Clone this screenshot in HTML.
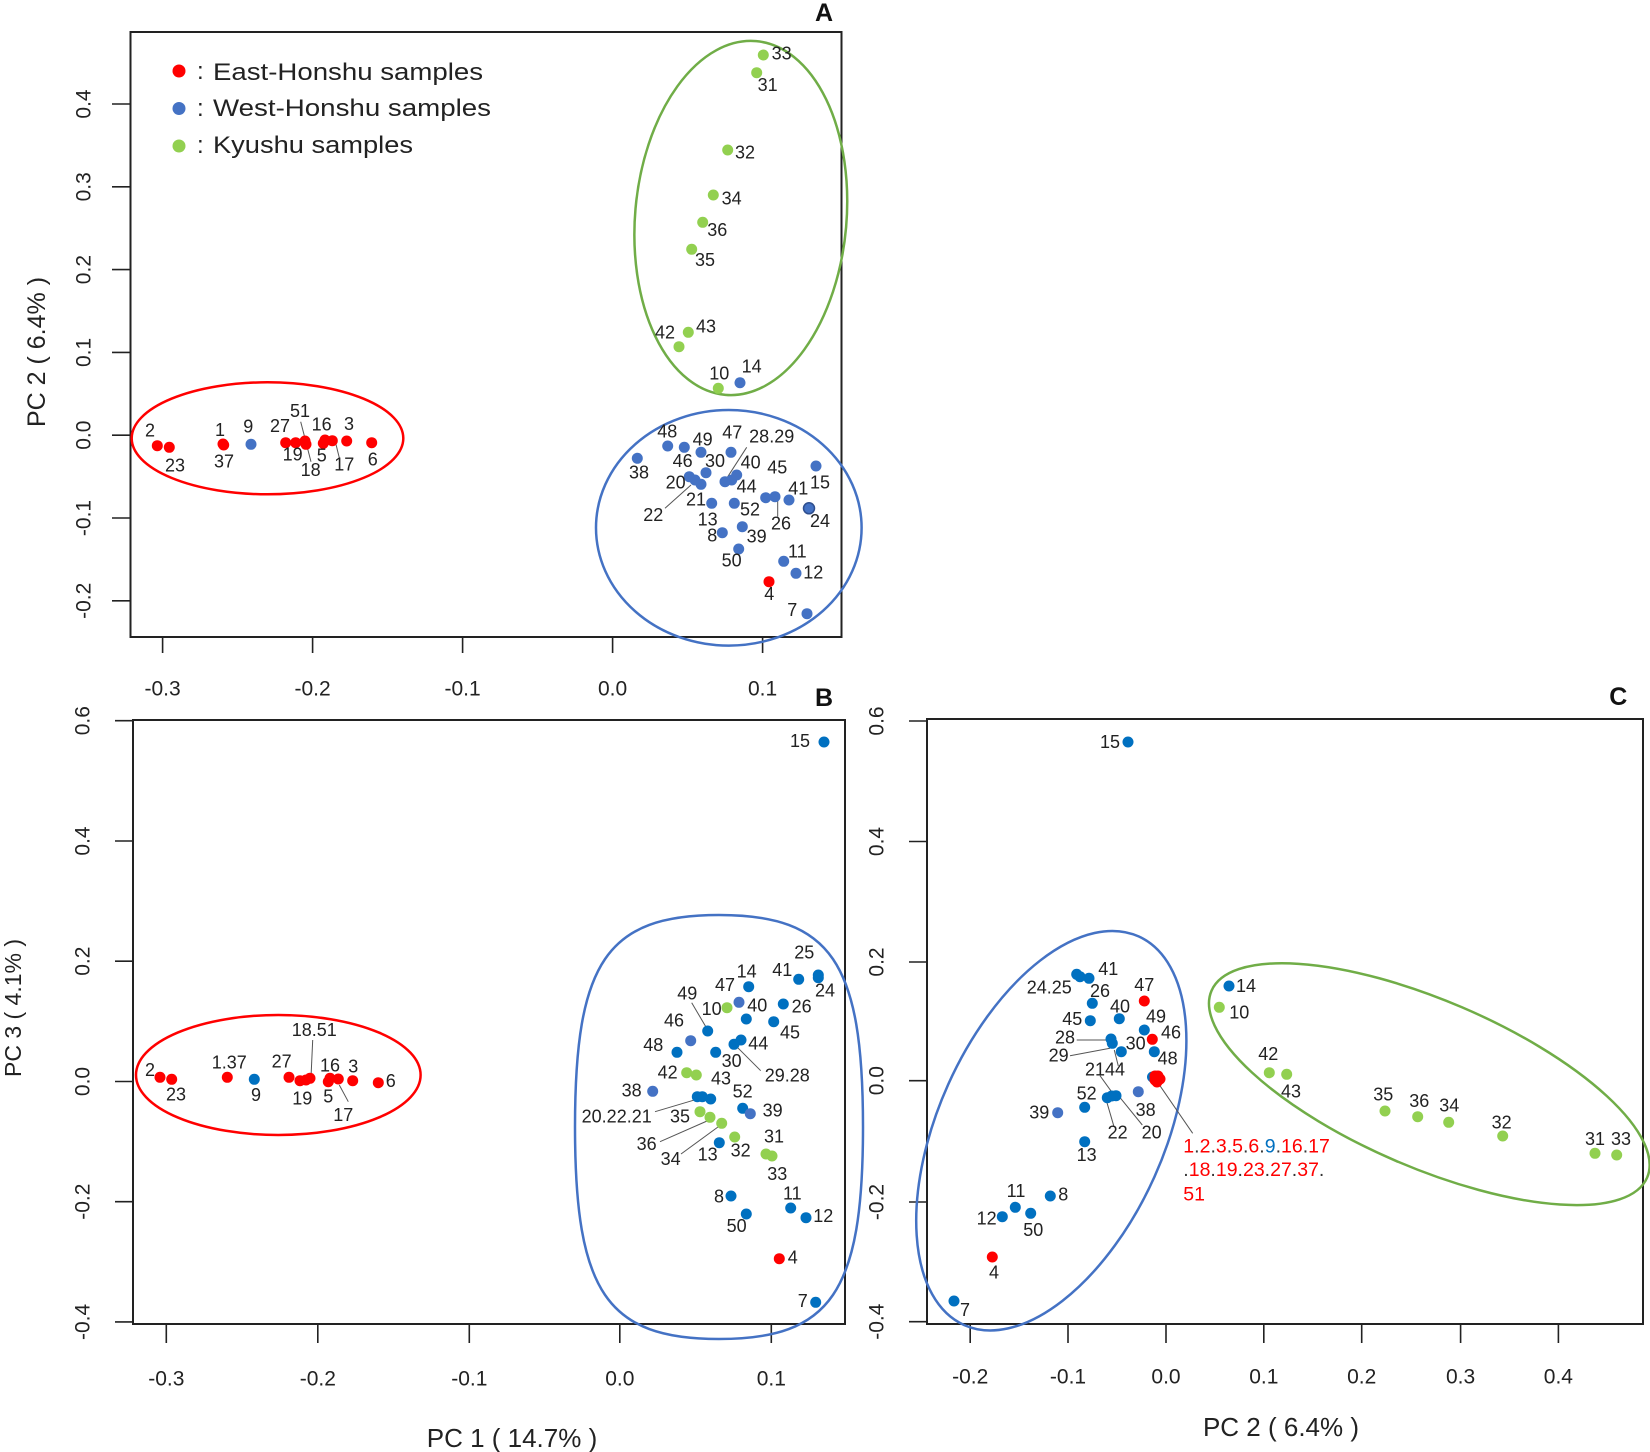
<!DOCTYPE html>
<html>
<head>
<meta charset="utf-8">
<style>
html,body{margin:0;padding:0;background:#fff;}
svg{display:block;}
text{font-family:"Liberation Sans","Noto Sans CJK JP",sans-serif;}
.l{font-size:18px;fill:#222;text-anchor:middle;dominant-baseline:central;}
.t{font-size:21px;fill:#222;text-anchor:middle;dominant-baseline:central;}
.r{fill:#FF0000;}
.b{fill:#4472C4;}
.d{fill:#0070C0;}
.g{fill:#92D050;}
.ax{fill:none;stroke:#222;stroke-width:2;}
.tk{stroke:#222;stroke-width:1.6;}
.ld{stroke:#555;stroke-width:1;}
</style>
</head>
<body>
<svg width="1650" height="1452" viewBox="0 0 1650 1452" xmlns="http://www.w3.org/2000/svg">
<rect x="0" y="0" width="1650" height="1452" fill="#fff"/>

<!-- ================= PANEL A ================= -->
<rect class="ax" x="130.5" y="32" width="711" height="605"/>
<g class="tk">
<line x1="162.6" y1="637" x2="162.6" y2="653"/>
<line x1="312.6" y1="637" x2="312.6" y2="653"/>
<line x1="462.6" y1="637" x2="462.6" y2="653"/>
<line x1="612.6" y1="637" x2="612.6" y2="653"/>
<line x1="762.6" y1="637" x2="762.6" y2="653"/>
<line x1="112" y1="104" x2="130.5" y2="104"/>
<line x1="112" y1="186.8" x2="130.5" y2="186.8"/>
<line x1="112" y1="269.6" x2="130.5" y2="269.6"/>
<line x1="112" y1="352.4" x2="130.5" y2="352.4"/>
<line x1="112" y1="435.2" x2="130.5" y2="435.2"/>
<line x1="112" y1="518" x2="130.5" y2="518"/>
<line x1="112" y1="600.8" x2="130.5" y2="600.8"/>
</g>
<g class="t">
<text x="162.6" y="689">-0.3</text>
<text x="312.6" y="689">-0.2</text>
<text x="462.6" y="689">-0.1</text>
<text x="612.6" y="689">0.0</text>
<text x="762.6" y="689">0.1</text>
<text transform="translate(84,104) rotate(-90)">0.4</text>
<text transform="translate(84,186.8) rotate(-90)">0.3</text>
<text transform="translate(84,269.6) rotate(-90)">0.2</text>
<text transform="translate(84,352.4) rotate(-90)">0.1</text>
<text transform="translate(84,435.2) rotate(-90)">0.0</text>
<text transform="translate(84,518) rotate(-90)">-0.1</text>
<text transform="translate(84,600.8) rotate(-90)">-0.2</text>
</g>
<text transform="translate(37,352) rotate(-90)" style="font-size:25px;fill:#222;text-anchor:middle;dominant-baseline:central;">PC 2 ( 6.4% )</text>
<text x="824" y="13" style="font-size:25px;font-weight:bold;fill:#111;text-anchor:middle;dominant-baseline:central;">A</text>

<!-- legend -->
<circle cx="179" cy="71" r="6.5" class="r"/>
<circle cx="179" cy="108.5" r="6.5" class="b"/>
<circle cx="179" cy="146" r="6.5" class="g"/>
<g style="font-size:24px;fill:#222;">
<text x="197" y="79">:</text>
<text x="197" y="116">:</text>
<text x="197" y="153">:</text>
<text x="213" y="80" textLength="270" lengthAdjust="spacingAndGlyphs">East-Honshu samples</text>
<text x="213" y="116" textLength="278" lengthAdjust="spacingAndGlyphs">West-Honshu samples</text>
<text x="213" y="153" textLength="200" lengthAdjust="spacingAndGlyphs">Kyushu samples</text>
</g>

<!-- ellipses A -->
<ellipse cx="267.5" cy="438.3" rx="135.8" ry="56" fill="none" stroke="#FF0000" stroke-width="2.5"/>
<ellipse cx="728.8" cy="527.8" rx="132.8" ry="117.8" fill="none" stroke="#4472C4" stroke-width="2.5"/>
<ellipse cx="740.8" cy="218" rx="105.7" ry="177.5" transform="rotate(5 740.8 218)" fill="none" stroke="#70AD47" stroke-width="2.5"/>

<!-- leaders A -->
<g class="ld">
<line x1="746.7" y1="447.3" x2="726.7" y2="478.3"/>
<line x1="665" y1="508.3" x2="691" y2="485"/>
<line x1="777.7" y1="500" x2="777.7" y2="516.7"/>
<line x1="300.7" y1="421.7" x2="311" y2="461.7"/>
<line x1="335.7" y1="443.3" x2="339.3" y2="457.7"/>
</g>

<!-- points A -->
<g>
<circle class="r" cx="157.3" cy="445.7" r="5.5"/>
<circle class="r" cx="169.3" cy="447.3" r="5.5"/>
<circle class="r" cx="223.7" cy="445" r="5.5"/>
<circle class="r" cx="223" cy="444" r="5.5"/>
<circle class="b" cx="251" cy="444.3" r="5.5"/>
<circle class="r" cx="285.7" cy="442.7" r="5.5"/>
<circle class="r" cx="295.7" cy="442.7" r="5.5"/>
<circle class="r" cx="305" cy="441" r="5.5"/>
<circle class="r" cx="306" cy="444.3" r="5.5"/>
<circle class="r" cx="323.3" cy="443.3" r="5.5"/>
<circle class="r" cx="325" cy="440" r="5.5"/>
<circle class="r" cx="332.3" cy="440.7" r="5.5"/>
<circle class="r" cx="346.7" cy="441" r="5.5"/>
<circle class="r" cx="371.7" cy="442.7" r="5.5"/>

<circle class="g" cx="763.3" cy="55" r="5.5"/>
<circle class="g" cx="756.7" cy="72.7" r="5.5"/>
<circle class="g" cx="727.7" cy="150" r="5.5"/>
<circle class="g" cx="713.3" cy="195" r="5.5"/>
<circle class="g" cx="702.7" cy="222.3" r="5.5"/>
<circle class="g" cx="691.7" cy="249.3" r="5.5"/>
<circle class="g" cx="688.3" cy="332.3" r="5.5"/>
<circle class="g" cx="679" cy="346.7" r="5.5"/>
<circle class="g" cx="718.3" cy="388.3" r="5.5"/>
<circle class="b" cx="740" cy="382.7" r="5.5"/>

<circle class="b" cx="667.7" cy="446" r="5.5"/>
<circle class="b" cx="684.3" cy="447.3" r="5.5"/>
<circle class="b" cx="701" cy="452.3" r="5.5"/>
<circle class="b" cx="731" cy="452.3" r="5.5"/>
<circle class="b" cx="637.3" cy="458.3" r="5.5"/>
<circle class="b" cx="706" cy="472.7" r="5.5"/>
<circle class="b" cx="689.3" cy="476.7" r="5.5"/>
<circle class="b" cx="695" cy="480" r="5.5"/>
<circle class="b" cx="701" cy="484.3" r="5.5"/>
<circle class="b" cx="725" cy="481.7" r="5.5"/>
<circle class="b" cx="731.7" cy="480" r="5.5"/>
<circle class="b" cx="736.7" cy="475" r="5.5"/>
<circle class="b" cx="816" cy="466" r="5.5"/>
<circle class="b" cx="765.7" cy="497.7" r="5.5"/>
<circle class="b" cx="775" cy="496.7" r="5.5"/>
<circle class="b" cx="789" cy="500" r="5.5"/>
<circle class="b" cx="809" cy="508.3" r="5.5" stroke="#2F4F8F" stroke-width="1.5"/>
<circle class="b" cx="711.7" cy="503.3" r="5.5"/>
<circle class="b" cx="734.3" cy="503.3" r="5.5"/>
<circle class="b" cx="742.3" cy="526.7" r="5.5"/>
<circle class="b" cx="722.3" cy="532.7" r="5.5"/>
<circle class="b" cx="738.7" cy="549" r="5.5"/>
<circle class="b" cx="783.7" cy="561.3" r="5.5"/>
<circle class="b" cx="796" cy="573.3" r="5.5"/>
<circle class="r" cx="769" cy="581.7" r="5.5"/>
<circle class="b" cx="807" cy="613.7" r="5.5"/>
</g>

<!-- labels A -->
<g class="l">
<text x="781.7" y="53.3">33</text>
<text x="767.7" y="85">31</text>
<text x="745" y="152.7">32</text>
<text x="731.7" y="198.3">34</text>
<text x="717.3" y="230">36</text>
<text x="705" y="260">35</text>
<text x="706" y="326.7">43</text>
<text x="665" y="332.7">42</text>
<text x="719.3" y="373.3">10</text>
<text x="751.7" y="366.7">14</text>
<text x="667.3" y="431.7">48</text>
<text x="702.7" y="439.3">49</text>
<text x="732.3" y="432.7">47</text>
<text x="771.7" y="436.7">28.29</text>
<text x="682.7" y="461">46</text>
<text x="715" y="461">30</text>
<text x="750.7" y="462.7">40</text>
<text x="777.3" y="467.7">45</text>
<text x="639" y="472.7">38</text>
<text x="675.7" y="482.7">20</text>
<text x="798.3" y="488.3">41</text>
<text x="820" y="482.7">15</text>
<text x="746.7" y="486.7">44</text>
<text x="696" y="499.3">21</text>
<text x="750" y="509.3">52</text>
<text x="653.3" y="515">22</text>
<text x="707.7" y="519.3">13</text>
<text x="781" y="523.3">26</text>
<text x="820" y="521">24</text>
<text x="712.3" y="535.7">8</text>
<text x="756.7" y="536.7">39</text>
<text x="797.3" y="551.7">11</text>
<text x="731.7" y="560.7">50</text>
<text x="813.3" y="572.7">12</text>
<text x="769.3" y="594">4</text>
<text x="792.3" y="610">7</text>
<text x="150" y="430.7">2</text>
<text x="175" y="465.7">23</text>
<text x="220" y="430">1</text>
<text x="224" y="461.7">37</text>
<text x="248.3" y="426.7">9</text>
<text x="280" y="426">27</text>
<text x="300" y="411">51</text>
<text x="321.7" y="424.3">16</text>
<text x="349" y="424">3</text>
<text x="292.7" y="454.3">19</text>
<text x="321.7" y="455.7">5</text>
<text x="310.7" y="470">18</text>
<text x="344.3" y="464.3">17</text>
<text x="372.7" y="459.3">6</text>
</g>

<!-- ================= PANEL B ================= -->
<rect class="ax" x="133" y="720" width="712" height="604"/>
<g class="tk">
<line x1="166.3" y1="1324" x2="166.3" y2="1343"/>
<line x1="317.8" y1="1324" x2="317.8" y2="1343"/>
<line x1="469.3" y1="1324" x2="469.3" y2="1343"/>
<line x1="619.8" y1="1324" x2="619.8" y2="1343"/>
<line x1="771.3" y1="1324" x2="771.3" y2="1343"/>
<line x1="115" y1="720.7" x2="133" y2="720.7"/>
<line x1="115" y1="841" x2="133" y2="841"/>
<line x1="115" y1="961.2" x2="133" y2="961.2"/>
<line x1="115" y1="1081.5" x2="133" y2="1081.5"/>
<line x1="115" y1="1201.7" x2="133" y2="1201.7"/>
<line x1="115" y1="1321.9" x2="133" y2="1321.9"/>
</g>
<g class="t">
<text x="166.3" y="1379">-0.3</text>
<text x="317.8" y="1379">-0.2</text>
<text x="469.3" y="1379">-0.1</text>
<text x="619.8" y="1379">0.0</text>
<text x="771.3" y="1379">0.1</text>
<text transform="translate(83,720.7) rotate(-90)">0.6</text>
<text transform="translate(83,841) rotate(-90)">0.4</text>
<text transform="translate(83,961.2) rotate(-90)">0.2</text>
<text transform="translate(83,1081.5) rotate(-90)">0.0</text>
<text transform="translate(83,1201.7) rotate(-90)">-0.2</text>
<text transform="translate(83,1321.9) rotate(-90)">-0.4</text>
</g>
<text transform="translate(13,1008) rotate(-90)" style="font-size:23px;fill:#222;text-anchor:middle;dominant-baseline:central;">PC 3 ( 4.1% )</text>
<text x="512" y="1438" style="font-size:26px;fill:#222;text-anchor:middle;dominant-baseline:central;">PC 1 ( 14.7% )</text>
<text x="824" y="698" style="font-size:25px;font-weight:bold;fill:#111;text-anchor:middle;dominant-baseline:central;">B</text>

<ellipse cx="278.3" cy="1075" rx="142.3" ry="60" fill="none" stroke="#FF0000" stroke-width="2.5"/>
<path d="M 863 1127 C 863 962, 831 915, 719 915 C 607 915, 575 962, 575 1127 C 575 1292, 607 1339, 719 1339 C 831 1339, 863 1292, 863 1127 Z" fill="none" stroke="#4472C4" stroke-width="2.5"/>

<g class="ld">
<line x1="691.7" y1="1002.7" x2="706.7" y2="1028.3"/>
<line x1="736.7" y1="1046.7" x2="760.7" y2="1070.7"/>
<line x1="655" y1="1111.7" x2="696.7" y2="1099.3"/>
<line x1="660" y1="1141.7" x2="709.3" y2="1120"/>
<line x1="681" y1="1154" x2="720.7" y2="1125"/>
<line x1="312.7" y1="1040" x2="311" y2="1077.3"/>
<line x1="339.3" y1="1085" x2="348.3" y2="1101.7"/>
</g>

<g>
<circle class="d" cx="824" cy="742" r="5.5"/>
<circle class="d" cx="818.3" cy="975" r="5.5"/>
<circle class="d" cx="818.3" cy="977.7" r="5.5"/>
<circle class="d" cx="798.7" cy="979.3" r="5.5"/>
<circle class="d" cx="748.7" cy="986.7" r="5.5"/>
<circle class="b" cx="739" cy="1002.3" r="5.5"/>
<circle class="g" cx="727" cy="1007.7" r="5.5"/>
<circle class="d" cx="783.3" cy="1004" r="5.5"/>
<circle class="d" cx="746.3" cy="1019" r="5.5"/>
<circle class="d" cx="773.7" cy="1021.7" r="5.5"/>
<circle class="d" cx="707.7" cy="1031" r="5.5"/>
<circle class="b" cx="690.7" cy="1040.7" r="5.5"/>
<circle class="d" cx="677" cy="1052.3" r="5.5"/>
<circle class="d" cx="715.7" cy="1052.3" r="5.5"/>
<circle class="d" cx="741" cy="1040" r="5.5"/>
<circle class="d" cx="734" cy="1044.3" r="5.5"/>
<circle class="g" cx="686.7" cy="1072.7" r="5.5"/>
<circle class="g" cx="696.3" cy="1075" r="5.5"/>
<circle class="b" cx="652.7" cy="1091.3" r="5.5"/>
<circle class="d" cx="697.3" cy="1096.7" r="5.5"/>
<circle class="d" cx="702.3" cy="1096.7" r="5.5"/>
<circle class="d" cx="710.7" cy="1099" r="5.5"/>
<circle class="d" cx="742.7" cy="1108.3" r="5.5"/>
<circle class="b" cx="750.3" cy="1113.7" r="5.5"/>
<circle class="g" cx="700" cy="1111.7" r="5.5"/>
<circle class="g" cx="710" cy="1117.3" r="5.5"/>
<circle class="g" cx="721.7" cy="1123.3" r="5.5"/>
<circle class="d" cx="719.3" cy="1142.7" r="5.5"/>
<circle class="g" cx="734.7" cy="1137" r="5.5"/>
<circle class="g" cx="766" cy="1154" r="5.5"/>
<circle class="g" cx="772" cy="1156" r="5.5"/>
<circle class="d" cx="731" cy="1196" r="5.5"/>
<circle class="d" cx="746.3" cy="1214" r="5.5"/>
<circle class="d" cx="790.7" cy="1208" r="5.5"/>
<circle class="d" cx="806" cy="1217.7" r="5.5"/>
<circle class="r" cx="779.3" cy="1258.7" r="5.5"/>
<circle class="d" cx="815.7" cy="1302.3" r="5.5"/>

<circle class="r" cx="160" cy="1077.3" r="5.5"/>
<circle class="r" cx="171.7" cy="1079.3" r="5.5"/>
<circle class="r" cx="227.3" cy="1077.3" r="5.5"/>
<circle class="d" cx="254.3" cy="1079.3" r="5.5"/>
<circle class="r" cx="289" cy="1077.3" r="5.5"/>
<circle class="r" cx="300" cy="1080.7" r="5.5"/>
<circle class="r" cx="306" cy="1080" r="5.5"/>
<circle class="r" cx="310" cy="1078.3" r="5.5"/>
<circle class="r" cx="328.3" cy="1081.7" r="5.5"/>
<circle class="r" cx="330" cy="1078.3" r="5.5"/>
<circle class="r" cx="338.3" cy="1079" r="5.5"/>
<circle class="r" cx="352.7" cy="1080.7" r="5.5"/>
<circle class="r" cx="378.3" cy="1082.7" r="5.5"/>
</g>

<g class="l">
<text x="800" y="741">15</text>
<text x="804.3" y="952.3">25</text>
<text x="782.3" y="970">41</text>
<text x="746.7" y="971.7">14</text>
<text x="825" y="990.7">24</text>
<text x="725" y="985">47</text>
<text x="687.3" y="993.3">49</text>
<text x="711.7" y="1009">10</text>
<text x="757.3" y="1005.7">40</text>
<text x="801.7" y="1006.7">26</text>
<text x="674" y="1020.7">46</text>
<text x="790" y="1032.3">45</text>
<text x="653.3" y="1045">48</text>
<text x="758.3" y="1043.3">44</text>
<text x="731.7" y="1061">30</text>
<text x="787.3" y="1075.7">29.28</text>
<text x="667.7" y="1072.7">42</text>
<text x="721" y="1078.3">43</text>
<text x="631.7" y="1090.7">38</text>
<text x="742.7" y="1091.3">52</text>
<text x="616.7" y="1116.7">20.22.21</text>
<text x="680" y="1116.7">35</text>
<text x="772.7" y="1110.7">39</text>
<text x="774" y="1136.7">31</text>
<text x="646.7" y="1144">36</text>
<text x="740.7" y="1150.7">32</text>
<text x="707.7" y="1154.3">13</text>
<text x="670.7" y="1159">34</text>
<text x="777.3" y="1174">33</text>
<text x="719" y="1196.7">8</text>
<text x="792.3" y="1193.3">11</text>
<text x="823.3" y="1216">12</text>
<text x="736.7" y="1226">50</text>
<text x="792.7" y="1257.3">4</text>
<text x="802.7" y="1301">7</text>
<text x="150" y="1070">2</text>
<text x="176" y="1094.3">23</text>
<text x="229.3" y="1062.7">1.37</text>
<text x="256" y="1095">9</text>
<text x="281.7" y="1061.7">27</text>
<text x="314.3" y="1030">18.51</text>
<text x="330" y="1065.7">16</text>
<text x="353.3" y="1066.7">3</text>
<text x="390.7" y="1081">6</text>
<text x="302.3" y="1098.3">19</text>
<text x="328.3" y="1096.7">5</text>
<text x="343.3" y="1115">17</text>
</g>

<!-- ================= PANEL C ================= -->
<rect class="ax" x="927" y="719" width="716" height="605"/>
<g class="tk">
<line x1="970.2" y1="1324" x2="970.2" y2="1343"/>
<line x1="1068" y1="1324" x2="1068" y2="1343"/>
<line x1="1166" y1="1324" x2="1166" y2="1343"/>
<line x1="1263.8" y1="1324" x2="1263.8" y2="1343"/>
<line x1="1361.7" y1="1324" x2="1361.7" y2="1343"/>
<line x1="1460.6" y1="1324" x2="1460.6" y2="1343"/>
<line x1="1558.4" y1="1324" x2="1558.4" y2="1343"/>
<line x1="909" y1="721" x2="927" y2="721"/>
<line x1="909" y1="841.5" x2="927" y2="841.5"/>
<line x1="909" y1="962" x2="927" y2="962"/>
<line x1="909" y1="1080.7" x2="927" y2="1080.7"/>
<line x1="909" y1="1202" x2="927" y2="1202"/>
<line x1="909" y1="1321.7" x2="927" y2="1321.7"/>
</g>
<g class="t">
<text x="970.2" y="1377">-0.2</text>
<text x="1068" y="1377">-0.1</text>
<text x="1166" y="1377">0.0</text>
<text x="1263.8" y="1377">0.1</text>
<text x="1361.7" y="1377">0.2</text>
<text x="1460.6" y="1377">0.3</text>
<text x="1558.4" y="1377">0.4</text>
<text transform="translate(877,721) rotate(-90)">0.6</text>
<text transform="translate(877,841.5) rotate(-90)">0.4</text>
<text transform="translate(877,962) rotate(-90)">0.2</text>
<text transform="translate(877,1080.7) rotate(-90)">0.0</text>
<text transform="translate(877,1202) rotate(-90)">-0.2</text>
<text transform="translate(877,1321.7) rotate(-90)">-0.4</text>
</g>
<text x="1281" y="1427" style="font-size:26px;fill:#222;text-anchor:middle;dominant-baseline:central;">PC 2 ( 6.4% )</text>
<text x="1618.3" y="697" style="font-size:25px;font-weight:bold;fill:#111;text-anchor:middle;dominant-baseline:central;">C</text>

<ellipse cx="1051.3" cy="1130.7" rx="213" ry="113" transform="rotate(-65.8 1051.3 1130.7)" fill="none" stroke="#4472C4" stroke-width="2.5"/>
<ellipse cx="1429.3" cy="1084.2" rx="237" ry="83.6" transform="rotate(23.2 1429.3 1084.2)" fill="none" stroke="#70AD47" stroke-width="2.5"/>

<g class="ld">
<line x1="1076.7" y1="1040" x2="1106.7" y2="1040"/>
<line x1="1070" y1="1055.7" x2="1110" y2="1048.3"/>
<line x1="1114.3" y1="1050" x2="1118.3" y2="1066"/>
<line x1="1100" y1="1075.7" x2="1112.7" y2="1093.3"/>
<line x1="1106.7" y1="1101.7" x2="1114" y2="1126.7"/>
<line x1="1119.3" y1="1096.7" x2="1142.3" y2="1125"/>
<line x1="1158.3" y1="1083.3" x2="1192.7" y2="1133.3"/>
</g>

<g>
<circle class="d" cx="1128" cy="742" r="5.5"/>
<circle class="d" cx="1076.7" cy="974.3" r="5.5"/>
<circle class="d" cx="1080" cy="976.7" r="5.5"/>
<circle class="d" cx="1089" cy="978.3" r="5.5"/>
<circle class="d" cx="1092.3" cy="1003.3" r="5.5"/>
<circle class="r" cx="1144.3" cy="1001" r="5.5"/>
<circle class="d" cx="1090.3" cy="1020.7" r="5.5"/>
<circle class="d" cx="1119.3" cy="1018.7" r="5.5"/>
<circle class="d" cx="1144.3" cy="1030" r="5.5"/>
<circle class="r" cx="1152.3" cy="1039.3" r="5.5"/>
<circle class="d" cx="1111" cy="1039" r="5.5"/>
<circle class="d" cx="1112.3" cy="1043.3" r="5.5"/>
<circle class="d" cx="1121.3" cy="1051.7" r="5.5"/>
<circle class="d" cx="1154.3" cy="1051.7" r="5.5"/>
<circle class="d" cx="1152.5" cy="1077" r="5.5"/>
<circle class="r" cx="1155" cy="1076" r="5.5"/>
<circle class="r" cx="1158" cy="1076" r="5.5"/>
<circle class="r" cx="1160" cy="1079" r="5.5"/>
<circle class="r" cx="1157" cy="1082" r="5.5"/>
<circle class="r" cx="1155" cy="1080" r="5.5"/>
<circle class="b" cx="1138.3" cy="1091.7" r="5.5"/>
<circle class="d" cx="1107.3" cy="1097.7" r="5.5"/>
<circle class="d" cx="1111.7" cy="1096" r="5.5"/>
<circle class="d" cx="1116" cy="1095.7" r="5.5"/>
<circle class="d" cx="1084.7" cy="1107.3" r="5.5"/>
<circle class="b" cx="1057.7" cy="1112.7" r="5.5"/>
<circle class="d" cx="1084.7" cy="1141.7" r="5.5"/>
<circle class="d" cx="1050.3" cy="1196" r="5.5"/>
<circle class="d" cx="1015.3" cy="1207.3" r="5.5"/>
<circle class="d" cx="1030.7" cy="1213.3" r="5.5"/>
<circle class="d" cx="1002.3" cy="1216.7" r="5.5"/>
<circle class="r" cx="992.3" cy="1257" r="5.5"/>
<circle class="d" cx="954" cy="1301" r="5.5"/>

<circle class="d" cx="1229" cy="986" r="5.5"/>
<circle class="g" cx="1219.3" cy="1007.3" r="5.5"/>
<circle class="g" cx="1269.3" cy="1072.7" r="5.5"/>
<circle class="g" cx="1286.7" cy="1074.3" r="5.5"/>
<circle class="g" cx="1385" cy="1111" r="5.5"/>
<circle class="g" cx="1417.7" cy="1116.7" r="5.5"/>
<circle class="g" cx="1448.7" cy="1122.3" r="5.5"/>
<circle class="g" cx="1502.7" cy="1136" r="5.5"/>
<circle class="g" cx="1595" cy="1153.3" r="5.5"/>
<circle class="g" cx="1616.7" cy="1155" r="5.5"/>
</g>

<g class="l">
<text x="1110" y="742">15</text>
<text x="1108.3" y="969">41</text>
<text x="1049.3" y="987.7">24.25</text>
<text x="1100" y="991">26</text>
<text x="1144.3" y="985">47</text>
<text x="1120" y="1006.7">40</text>
<text x="1072.3" y="1019">45</text>
<text x="1156" y="1016.7">49</text>
<text x="1171" y="1032.3">46</text>
<text x="1065" y="1037.3">28</text>
<text x="1135.7" y="1043.3">30</text>
<text x="1058.7" y="1055.7">29</text>
<text x="1167.7" y="1058.3">48</text>
<text x="1105" y="1069.3">2144</text>
<text x="1086.7" y="1093.3">52</text>
<text x="1145.7" y="1110">38</text>
<text x="1039.3" y="1112.3">39</text>
<text x="1117.7" y="1132.3">22</text>
<text x="1151.7" y="1132.3">20</text>
<text x="1086.7" y="1155">13</text>
<text x="1016" y="1191">11</text>
<text x="1063.3" y="1194.3">8</text>
<text x="986.7" y="1218.3">12</text>
<text x="1033.3" y="1230">50</text>
<text x="994" y="1272.3">4</text>
<text x="965" y="1310">7</text>
<text x="1246" y="986">14</text>
<text x="1239.3" y="1012.7">10</text>
<text x="1268.3" y="1054">42</text>
<text x="1291" y="1091.7">43</text>
<text x="1383.3" y="1094.3">35</text>
<text x="1419.3" y="1101">36</text>
<text x="1449.3" y="1105.7">34</text>
<text x="1501.7" y="1122.3">32</text>
<text x="1595" y="1139">31</text>
<text x="1621" y="1139">33</text>
</g>

<g style="font-size:19.5px;dominant-baseline:central;">
<text x="1183.3" y="1146.7" fill="#FF0000">1<tspan fill="#333">.</tspan>2<tspan fill="#333">.</tspan>3<tspan fill="#333">.</tspan>5<tspan fill="#333">.</tspan>6<tspan fill="#333">.</tspan><tspan fill="#0070C0">9</tspan><tspan fill="#333">.</tspan>16<tspan fill="#333">.</tspan>17</text>
<text x="1183.3" y="1170" fill="#FF0000"><tspan fill="#333">.</tspan>18<tspan fill="#333">.</tspan>19<tspan fill="#333">.</tspan>23<tspan fill="#333">.</tspan>27<tspan fill="#333">.</tspan>37<tspan fill="#333">.</tspan></text>
<text x="1183.3" y="1194.3" fill="#FF0000">51</text>
</g>

</svg>
</body>
</html>
